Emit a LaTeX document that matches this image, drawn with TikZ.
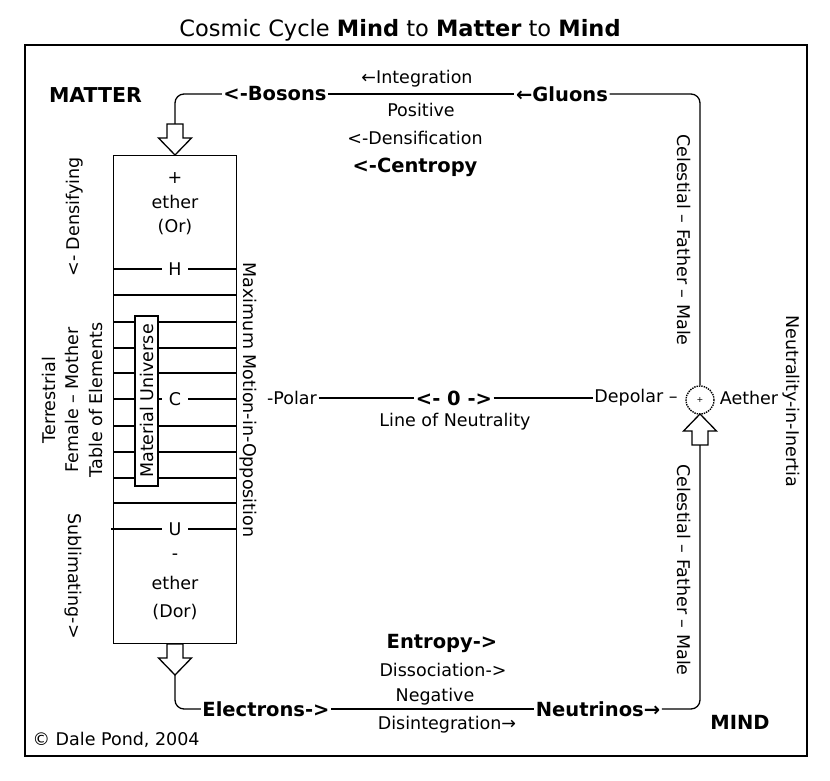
\documentclass[tikz,border=0pt]{standalone}
\usepackage{fontspec}
\setmainfont{DejaVu Sans}
\tikzset{
  lbl/.style={font=\fontsize{17.5}{23.5}\selectfont, inner sep=1pt},
  blbl/.style={font=\bfseries\fontsize{19.5}{23}\selectfont, inner sep=1pt},
  knock/.style={lbl, fill=white, inner xsep=6.5pt, inner ysep=1pt},
  conn/.style={line width=1.3pt, rounded corners=9pt},
  hollowarrow/.pic={\draw[fill=white, line width=1.3pt] (-8,0) -- (-8,14) -- (-16.5,14) -- (0,31) -- (16.5,14) -- (8,14) -- (8,0) -- cycle;}
}
\begin{document}
\begin{tikzpicture}[x=1pt, y=-1pt, line width=1.3pt]
\useasboundingbox (0,0) rectangle (830,781);
% frame and title
\draw[line width=2pt] (25,45) rectangle (807,756);
\node[font=\fontsize{22.5}{26}\selectfont] (title) at (400,30) {Cosmic Cycle \textbf{Mind} to \textbf{Matter} to \textbf{Mind}};

% column of elements
\node[draw, minimum width=123pt, minimum height=488pt, inner sep=0pt, anchor=north west] (col) at (113,155) {};
\foreach \yy in {295,322,348,373,426,452,478,503} \draw (113,\yy) -- (236,\yy);
\draw (113,269) -- (236,269);
\draw (113,399) -- (236,399);
\draw (111,529) -- (236,529);
\node[knock] (H) at (175,269) {H};
\node[knock] (C) at (175,399) {C};
\node[knock] (U) at (175,529) {U};
\node[lbl, draw, fill=white, rotate=90, minimum width=170pt, minimum height=23pt, inner sep=0pt] (mu) at (146.5,401) {Material Universe};
\node[lbl] (plus) at (175,178) {+};
\node[lbl] (ether1) at (175,202) {ether};
\node[lbl] (or) at (175,227) {(Or)};
\node[lbl] (minus) at (175,557) {-};
\node[lbl] (ether2) at (175,583) {ether};
\node[lbl] (dor) at (175,612) {(Dor)};

% left side texts
\node[lbl, rotate=90] (dens) at (75,217) {<- Densifying};
\node[lbl, rotate=90, align=center] (terr) at (72,400) {Terrestrial\\Female – Mother\\Table of Elements};
\node[lbl, rotate=-90] (subl) at (73,576) {Sublimating->};
\node[lbl, rotate=-90] (maxm) at (248,400) {Maximum Motion-in-Opposition};
\node[font=\bfseries\fontsize{20.5}{24}\selectfont, inner sep=1pt] (matter) at (95.5,95) {MATTER};

% top
\node[lbl] (integ) at (417,79) {←Integration};
\node[lbl] (pos) at (421,110) {Positive};
\node[lbl] (densif) at (415,138) {<-Densification};
\node[blbl] (centr) at (415,167) {<-Centropy};
\node[blbl] (bosons) at (275,94) {<-Bosons};
\node[blbl] (gluons) at (562,94) {←Gluons};

% middle
\node[lbl] (polar) at (292,398) {-Polar};
\node[blbl] (zero) at (454,398) {<- 0 ->};
\node[lbl] (depolar) at (636,398) {Depolar –};
\node[circle, draw, densely dotted, line width=1.4pt, minimum size=28pt, inner sep=0pt, font=\fontsize{8}{8}\selectfont] (aeth) at (700,400) {+};
\node[lbl] (aether) at (749,398) {Aether};
\node[lbl] (lon) at (455,422) {Line of Neutrality};

% right side
\node[lbl, rotate=-90] (cel1) at (684,240) {Celestial – Father – Male};
\node[lbl, rotate=-90] (cel2) at (684,570) {Celestial – Father – Male};
\node[lbl, rotate=-90] (neutr) at (791,401) {Neutrality-in-Inertia};

% bottom
\node[blbl] (entropy) at (442,643) {Entropy->};
\node[lbl] (dissoc) at (443,670) {Dissociation->};
\node[lbl] (neg) at (435,697) {Negative};
\node[lbl] (disint) at (447,725) {Disintegration→};
\node[blbl] (electrons) at (266,709) {Electrons->};
\node[blbl] (neutrinos) at (598,709) {Neutrinos→};
\node[blbl] (mind) at (740,722) {MIND};
\node[lbl, anchor=west] (copy) at (31,740) {© Dale Pond, 2004};

% hollow arrows
\pic at (175,124) {hollowarrow};
\coordinate (ta) at (175,124);
\pic at (175,644) {hollowarrow};
\coordinate (tb) at (175,675);
\pic[rotate=180] at (700,445) {hollowarrow};
\coordinate (tr) at (700,445);

% connectors
\draw[conn] (bosons.west) -- (ta |- bosons.west) -- (ta);
\draw (bosons.east) -- (gluons.west);
\draw[conn] (gluons.east) -- (gluons.east -| aeth.north) -- (aeth.north);
\draw (polar.east) -- (zero.west);
\draw (zero.east) -- (depolar.west);
\draw[conn] (tb) -- (tb |- electrons.west) -- (electrons.west);
\draw (electrons.east) -- (neutrinos.west);
\draw[conn] (neutrinos.east) -- (neutrinos.east -| tr) -- (tr);
\end{tikzpicture}
\end{document}
